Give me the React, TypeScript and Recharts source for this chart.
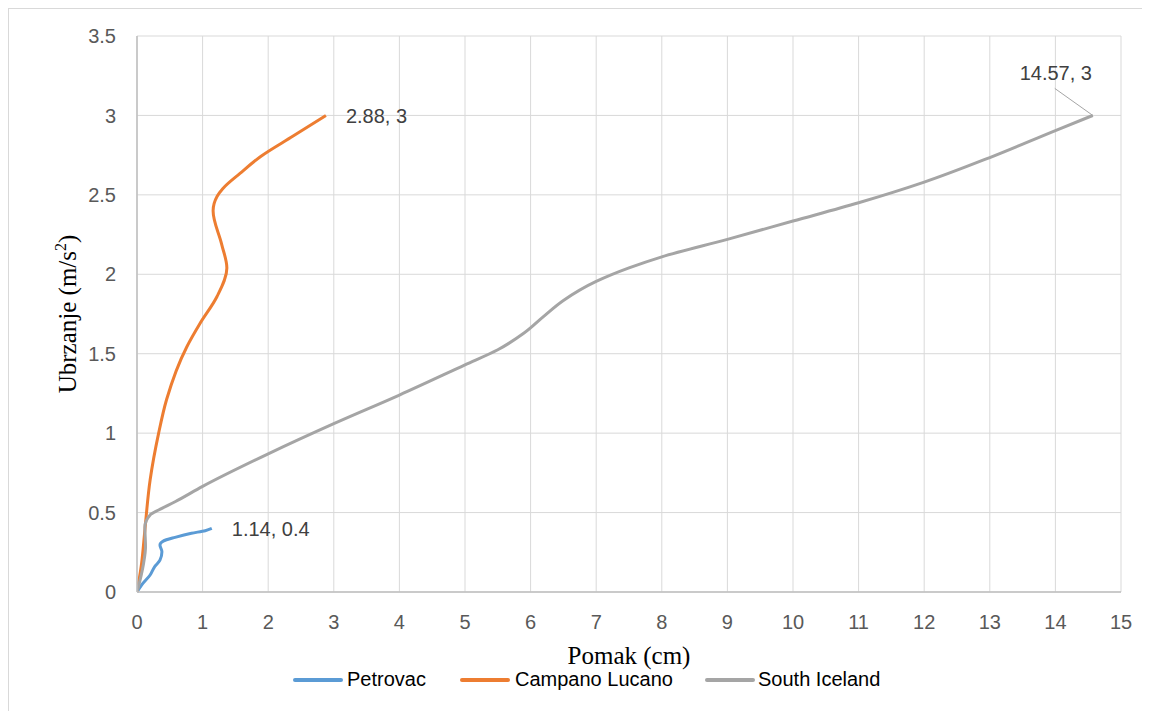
import { CartesianGrid, Label, Line, LineChart, XAxis, YAxis } from 'recharts'

const petrovacX = [0, 0.07, 0.2, 0.27, 0.35, 0.38, 0.35, 0.4, 0.58, 0.83, 1.04, 1.14]
const petrovacY = [0, 0.044, 0.107, 0.16, 0.2, 0.254, 0.296, 0.32, 0.344, 0.37, 0.386, 0.4]

const campanoX = [0, 0.07, 0.12, 0.2, 0.33, 0.45, 0.76, 0.96, 1.22, 1.37, 1.29, 1.16, 1.22, 1.31, 1.57, 1.88, 2.38, 2.88]
const campanoY = [0, 0.18, 0.39, 0.705, 1.0, 1.21, 1.544, 1.69, 1.86, 2.04, 2.19, 2.4, 2.49, 2.54, 2.635, 2.74, 2.87, 3.0]

const icelandX = [0, 0.1, 0.13, 0.12, 0.2, 0.33, 0.58, 1.0, 2.0, 3.0, 4.0, 5.0, 5.5, 5.9, 6.2, 6.5, 7.0, 7.5, 8.0, 9.0, 10.0, 11.0, 12.0, 13.0, 14.0, 14.57]
const icelandY = [0, 0.18, 0.285, 0.41, 0.485, 0.516, 0.568, 0.665, 0.87, 1.06, 1.24, 1.43, 1.525, 1.63, 1.735, 1.835, 1.955, 2.04, 2.11, 2.22, 2.335, 2.45, 2.58, 2.735, 2.905, 3]

const xTicks = [0, 1, 2, 3, 4, 5, 6, 7, 8, 9, 10, 11, 12, 13, 14, 15]
const yTicks = [0, 0.5, 1, 1.5, 2, 2.5, 3, 3.5]

const seriesNames = ['Petrovac', 'Campano Lucano', 'South Iceland']
const seriesColors = ['#5b9bd5', '#ed7d31', '#a5a5a5']

const toPoints = (xs: number[], ys: number[]) => xs.map((x, i) => ({ x, y: ys[i] }))

const sans = '"Liberation Sans", Arial, sans-serif'
const serif = '"Liberation Serif", "Times New Roman", serif'

type EndLabelProps = { x?: number; y?: number; index?: number }

const makeEndLabel = (xs: number[], ys: number[], kind: 'right' | 'above') => {
  const last = xs.length - 1
  const text = `${xs[last]}, ${ys[last]}`
  return (props: EndLabelProps) => {
    const { x = 0, y = 0, index } = props
    if (index !== last) return null
    if (kind === 'above') {
      return (
        <g>
          <line x1={x - 38} y1={y - 27} x2={x} y2={y} stroke="#a5a5a5" strokeWidth={1} />
          <text x={x - 37} y={y - 35} textAnchor="middle" fontSize={20} fontFamily={sans} fill="#404040">
            {text}
          </text>
        </g>
      )
    }
    return (
      <text x={x + 20} y={y + 8} fontSize={20} fontFamily={sans} fill="#404040">
        {text}
      </text>
    )
  }
}

const YTitle = () => (
  <text
    x={68}
    y={306}
    transform="rotate(-90 68 306)"
    textAnchor="middle"
    fontSize={25}
    fontFamily={serif}
    fill="#000"
  >
    Ubrzanje (m/s
    <tspan fontSize={16} dy={-10}>2</tspan>
    <tspan dy={10}>)</tspan>
  </text>
)

const XTitle = ({ viewBox }: { viewBox?: { x: number; width: number } }) => {
  const cx = viewBox ? viewBox.x + viewBox.width / 2 : 620
  return (
    <text x={cx} y={656} textAnchor="middle" fontSize={25} fontFamily={serif} fill="#000">
      Pomak (cm)
    </text>
  )
}

const legendItems = [
  { line: 285, text: 339 },
  { line: 452, text: 507 },
  { line: 697, text: 750 },
]

const App = () => {
  const series = [
    toPoints(petrovacX, petrovacY),
    toPoints(campanoX, campanoY),
    toPoints(icelandX, icelandY),
  ]

  return (
    <div style={{ position: 'relative', width: 1142, height: 703 }}>
      <div
        style={{
          position: 'absolute',
          left: 0,
          top: 0,
          right: 0,
          bottom: 0,
          borderTop: '1.5px solid #d9d9d9',
          borderLeft: '1.5px solid #d9d9d9',
          pointerEvents: 'none',
        }}
      />
      <LineChart width={1142} height={695} margin={{ top: 28, right: 29, left: 69, bottom: 81 }}>
        <CartesianGrid stroke="#d9d9d9" strokeWidth={1} />
        <XAxis
          dataKey="x"
          type="number"
          domain={[0, 15]}
          ticks={xTicks}
          interval={0}
          height={30}
          tickLine={false}
          tickSize={0}
          tickMargin={23}
          axisLine={{ stroke: '#bfbfbf', strokeWidth: 1.5 }}
          tick={{ fontSize: 20, fontFamily: sans, fill: '#595959' }}
          allowDataOverflow
        >
          <Label content={<XTitle />} />
        </XAxis>
        <YAxis
          type="number"
          domain={[0, 3.5]}
          ticks={yTicks}
          interval={0}
          width={60}
          tickLine={false}
          tickSize={0}
          tickMargin={21}
          axisLine={{ stroke: '#bfbfbf', strokeWidth: 1.5 }}
          tick={{ fontSize: 20, fontFamily: sans, fill: '#595959' }}
        >
          <Label content={<YTitle />} />
        </YAxis>
        <Line
          data={series[0]}
          dataKey="y"
          type="monotoneY"
          stroke={seriesColors[0]}
          strokeWidth={3}
          dot={false}
          isAnimationActive={false}
          label={makeEndLabel(petrovacX, petrovacY, 'right')}
        />
        <Line
          data={series[1]}
          dataKey="y"
          type="monotoneY"
          stroke={seriesColors[1]}
          strokeWidth={3}
          dot={false}
          isAnimationActive={false}
          label={makeEndLabel(campanoX, campanoY, 'right')}
        />
        <Line
          data={series[2]}
          dataKey="y"
          type="monotoneY"
          stroke={seriesColors[2]}
          strokeWidth={3}
          dot={false}
          isAnimationActive={false}
          label={makeEndLabel(icelandX, icelandY, 'above')}
        />
      </LineChart>
      {seriesNames.map((name, i) => (
        <div
          key={name}
          style={{ position: 'absolute', top: 670, left: legendItems[i].line, display: 'flex', alignItems: 'center' }}
        >
          <div style={{ width: 50, height: 3.5, background: seriesColors[i], borderRadius: 2 }} />
          <span
            style={{
              position: 'absolute',
              left: legendItems[i].text - legendItems[i].line,
              whiteSpace: 'nowrap',
              fontSize: 20,
              fontFamily: sans,
              color: '#000',
            }}
          >
            {name}
          </span>
        </div>
      ))}
    </div>
  )
}

export default App
